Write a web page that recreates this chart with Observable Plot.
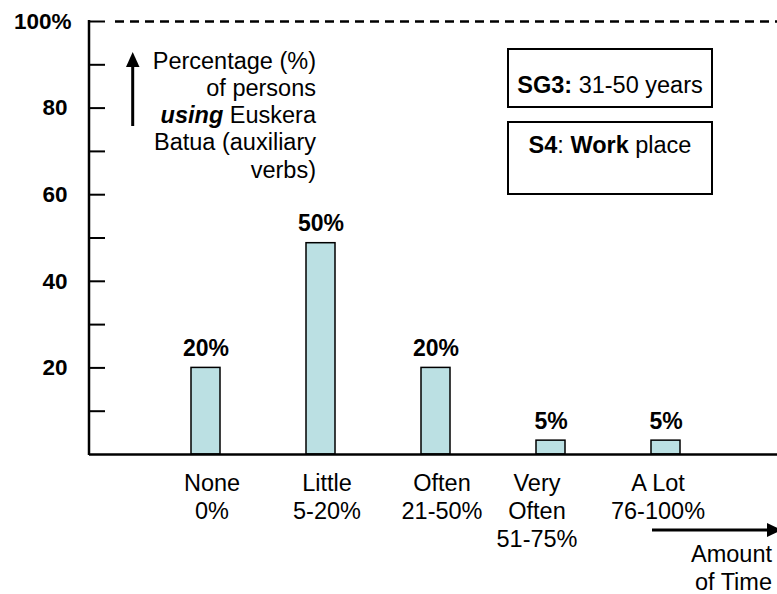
<!DOCTYPE html>
<html><head><meta charset="utf-8">
<script src="https://cdn.jsdelivr.net/npm/d3@7"></script>
<script src="https://cdn.jsdelivr.net/npm/@observablehq/plot@0.6"></script>
<style>body{margin:0;background:#fff;} svg{display:block}</style>
</head><body><div id="chart"></div>
<script>
// ---- data ----
const categories = ["None", "Little", "Often", "Very Often", "A Lot"];
const categoryLabels = ["None\n0%", "Little\n5-20%", "Often\n21-50%", "Very\nOften\n51-75%", "A Lot\n76-100%"];
const values = [20, 48.8, 20, 3.2, 3.2];
const valueLabels = ["20%", "50%", "20%", "5%", "5%"];
const yTickLabels = [20, 40, 60, 80];
const yTopLabel = [100];
const yMinorTicks = [10, 20, 30, 40, 50, 60, 70, 80, 90, 100];

const data = categories.map((c, i) => ({category: c, value: values[i], label: valueLabels[i], text: categoryLabels[i]}));
const leftGroup = data.filter(d => ["None", "Little", "Often"].includes(d.category));
const veryOften = data.filter(d => d.category === "Very Often");
const aLot = data.filter(d => d.category === "A Lot");

const FONT = "'Liberation Sans', Arial, Helvetica, sans-serif";
const FS = 23.5;

function annotations(index, scales) {
  const g = d3.create("svg:g").attr("font-family", FONT).attr("fill", "#000");
  const y = scales && scales.y ? scales.y : (v => 454 - v * 4.333);
  // y axis line
  g.append("line").attr("x1", 89).attr("x2", 89).attr("y1", y(100) - 1).attr("y2", y(0) + 1)
    .attr("stroke", "#000").attr("stroke-width", 2.5);
  // up arrow
  g.append("line").attr("x1", 132.7).attr("x2", 132.7).attr("y1", 126).attr("y2", 64)
    .attr("stroke", "#000").attr("stroke-width", 3);
  g.append("path").attr("d", "M132.7,52 L139.5,67 L126,67 Z").attr("fill", "#000");
  // y annotation text
  const lines = [["Percentage (%)"], ["of persons"], [["using", true], [" Euskera", false]], ["Batua (auxiliary"], ["verbs)"]];
  const base = 68.5, lh = 27.3;
  lines.forEach((ln, i) => {
    const txt = g.append("text").attr("text-anchor", "end").attr("font-size", FS)
      .attr("x", 316).attr("y", base + i * lh);
    ln.forEach(part => {
      if (Array.isArray(part)) {
        const ts = txt.append("tspan").text(part[0]);
        if (part[1]) ts.attr("font-weight", "bold").attr("font-style", "italic");
      } else txt.append("tspan").text(part);
    });
  });
  // boxes
  g.append("rect").attr("x", 508).attr("y", 49).attr("width", 204).attr("height", 58)
    .attr("fill", "#fff").attr("stroke", "#000").attr("stroke-width", 2);
  g.append("rect").attr("x", 508).attr("y", 122).attr("width", 204).attr("height", 72)
    .attr("fill", "#fff").attr("stroke", "#000").attr("stroke-width", 2);
  const b1 = g.append("text").attr("text-anchor", "middle").attr("font-size", FS).attr("x", 610).attr("y", 93);
  b1.append("tspan").attr("font-weight", "bold").text("SG3:");
  b1.append("tspan").text(" 31-50 years");
  const b2 = g.append("text").attr("text-anchor", "middle").attr("font-size", FS).attr("x", 610).attr("y", 153);
  b2.append("tspan").attr("font-weight", "bold").text("S4");
  b2.append("tspan").text(": ");
  b2.append("tspan").attr("font-weight", "bold").text("Work");
  b2.append("tspan").text(" place");
  // right arrow
  g.append("line").attr("x1", 652).attr("x2", 768).attr("y1", 530).attr("y2", 530)
    .attr("stroke", "#000").attr("stroke-width", 3);
  g.append("path").attr("d", "M782,530 L767,523 L767,537 Z").attr("fill", "#000");
  g.append("text").attr("text-anchor", "end").attr("font-size", FS).attr("x", 772).attr("y", 562).text("Amount");
  g.append("text").attr("text-anchor", "end").attr("font-size", FS).attr("x", 772).attr("y", 590).text("of Time");
  return g.node();
}

const catText = (rows, dx) => Plot.text(rows, {
  x: "category", text: "text", frameAnchor: "bottom", lineAnchor: "top",
  dy: 16, dx, fontSize: FS, lineHeight: 1.2, fill: "#000"
});

const chart = Plot.plot({
  width: 777, height: 594,
  marginTop: 21, marginBottom: 140, marginLeft: 89, marginRight: 0,
  style: {fontFamily: FONT, background: "#fff", color: "#000", overflow: "visible"},
  x: {domain: categories, range: [89, 783], paddingInner: 0.745, paddingOuter: 0.8725, axis: null},
  y: {domain: [0, 100], axis: null},
  marks: [
    Plot.ruleY([100], {stroke: "#000", strokeWidth: 2.5, strokeDasharray: "9,6", insetLeft: 26}),
    Plot.ruleY(yMinorTicks, {stroke: "#000", strokeWidth: 2, insetRight: 777 - 89 - 16}),
    Plot.barY(data, {x: "category", y: "value", fill: "#BBE0E3", stroke: "#000", strokeWidth: 1.5}),
    Plot.ruleY([0], {stroke: "#000", strokeWidth: 2.5}),
    Plot.text(data, {x: "category", y: "value", text: "label", dy: -12, lineAnchor: "bottom",
      fontWeight: "bold", fontSize: 23, fill: "#000"}),
    Plot.text(yTickLabels, {y: d => d, text: d => String(d), frameAnchor: "left", textAnchor: "end",
      dx: -22, fontWeight: "bold", fontSize: 22.5, fill: "#000"}),
    Plot.text(yTopLabel, {y: d => d, text: d => d + "%", frameAnchor: "left", textAnchor: "end",
      dx: -18, fontWeight: "bold", fontSize: 22.5, fill: "#000"}),
    catText(leftGroup, 6),
    catText(veryOften, -14),
    catText(aLot, -8),
    annotations
  ]
});
document.getElementById("chart").appendChild(chart);
</script>
</body></html>
